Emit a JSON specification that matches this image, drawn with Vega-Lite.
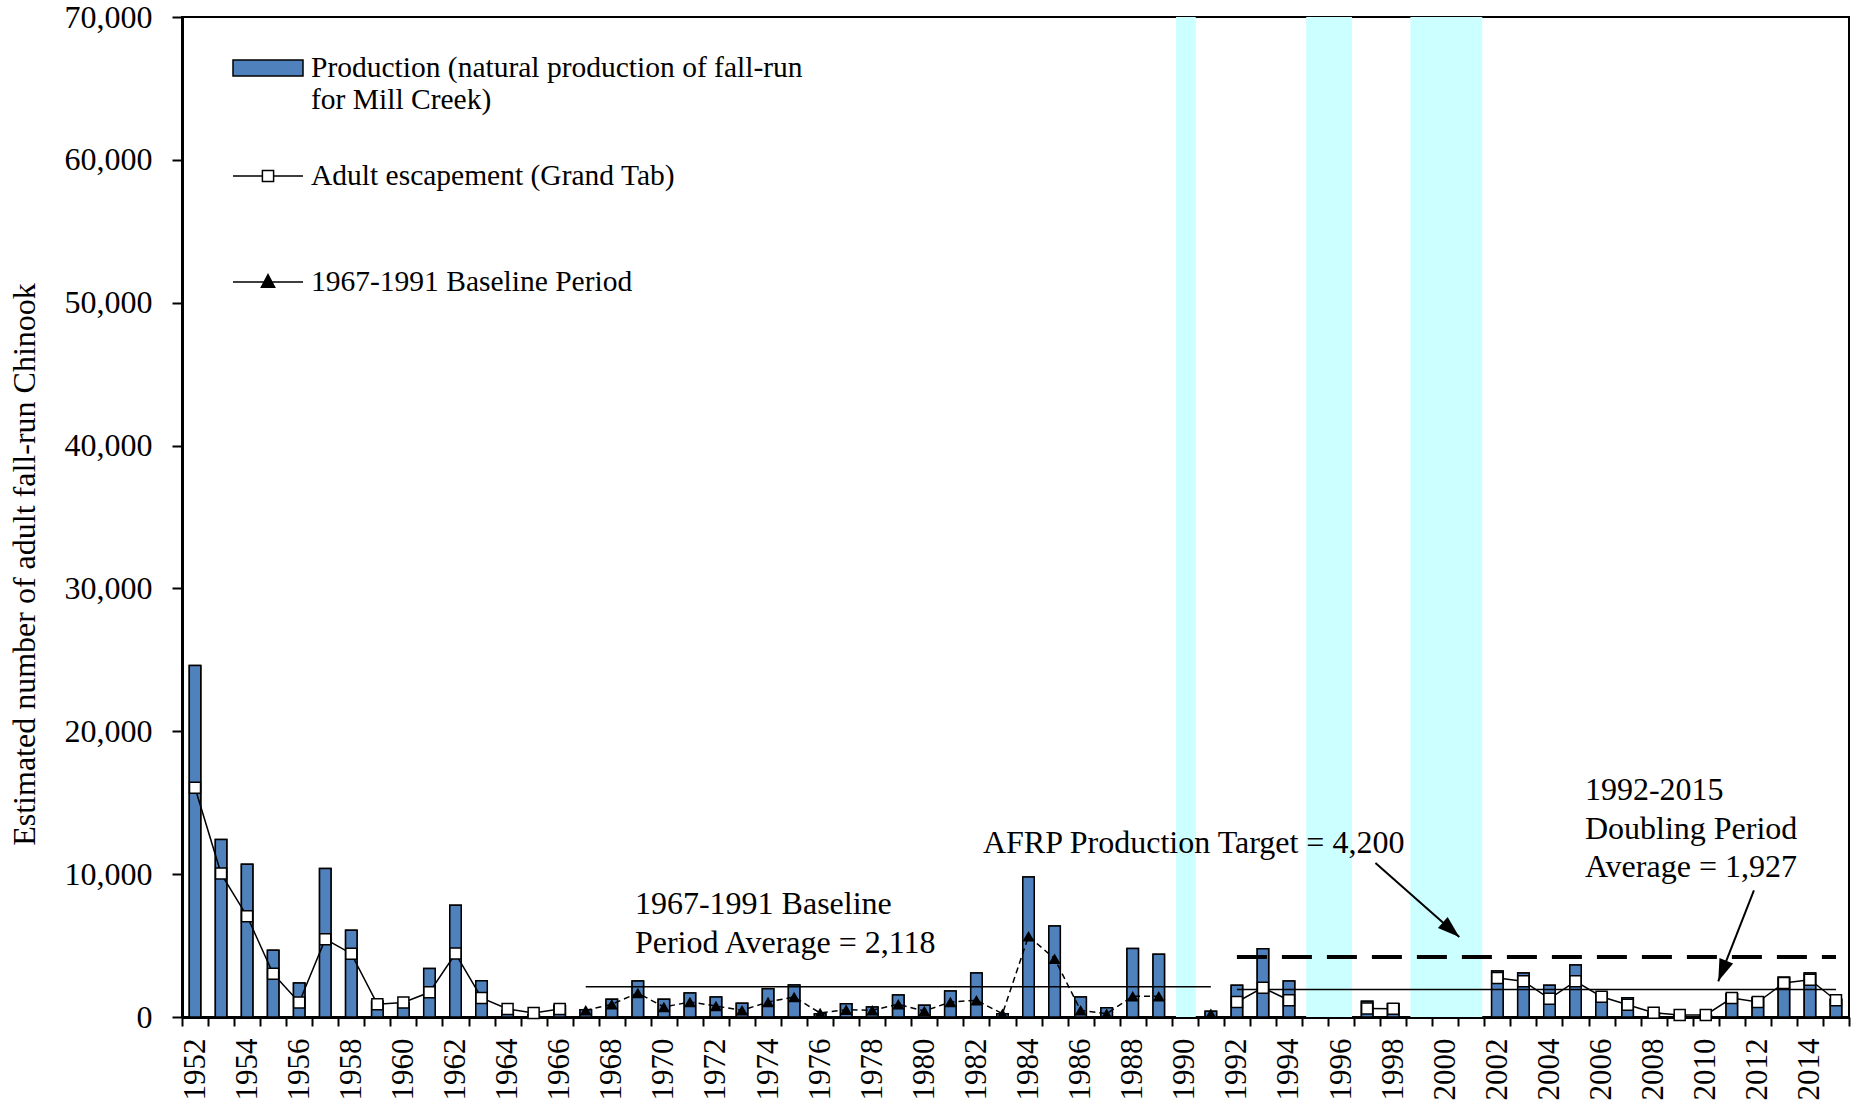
{
  "$schema": "https://vega.github.io/schema/vega-lite/v6.json",
  "width": 1667,
  "height": 1000,
  "autosize": {"type": "none"},
  "padding": {"left": 182, "top": 17, "right": 6, "bottom": 93},
  "background": "white",
  "config": {
    "font": "Liberation Serif",
    "view": {"stroke": "black", "strokeWidth": 2},
    "style": {
      "guide-label": {"font": "Liberation Serif", "fill": "black"},
      "guide-title": {"font": "Liberation Serif", "fill": "black"}
    },
    "axis": {"labelFont": "Liberation Serif", "titleFont": "Liberation Serif", "labelColor": "black", "titleColor": "black", "domainColor": "black", "tickColor": "black", "grid": false}
  },
  "datasets": {
    "main": [
      {"year": 1952, "prod": 24600, "esc": 16050, "base": null},
      {"year": 1953, "prod": 12420, "esc": 10040, "base": null},
      {"year": 1954, "prod": 10700, "esc": 7050, "base": null},
      {"year": 1955, "prod": 4680, "esc": 3030, "base": null},
      {"year": 1956, "prod": 2380, "esc": 1020, "base": null},
      {"year": 1957, "prod": 10400, "esc": 5450, "base": null},
      {"year": 1958, "prod": 6080, "esc": 4430, "base": null},
      {"year": 1959, "prod": 1100, "esc": 900, "base": null},
      {"year": 1960, "prod": 1000, "esc": 1020, "base": null},
      {"year": 1961, "prod": 3400, "esc": 1730, "base": null},
      {"year": 1962, "prod": 7820, "esc": 4440, "base": null},
      {"year": 1963, "prod": 2530, "esc": 1330, "base": null},
      {"year": 1964, "prod": 450, "esc": 560, "base": null},
      {"year": 1965, "prod": 150, "esc": 280, "base": null},
      {"year": 1966, "prod": 800, "esc": 560, "base": null},
      {"year": 1967, "prod": 500, "esc": null, "base": 470},
      {"year": 1968, "prod": 1240, "esc": null, "base": 890},
      {"year": 1969, "prod": 2520, "esc": null, "base": 1680},
      {"year": 1970, "prod": 1240, "esc": null, "base": 700},
      {"year": 1971, "prod": 1680, "esc": null, "base": 1050},
      {"year": 1972, "prod": 1400, "esc": null, "base": 770},
      {"year": 1973, "prod": 960, "esc": null, "base": 470},
      {"year": 1974, "prod": 1980, "esc": null, "base": 1050},
      {"year": 1975, "prod": 2240, "esc": null, "base": 1400},
      {"year": 1976, "prod": 230, "esc": null, "base": 280},
      {"year": 1977, "prod": 930, "esc": null, "base": 510},
      {"year": 1978, "prod": 700, "esc": null, "base": 470},
      {"year": 1979, "prod": 1540, "esc": null, "base": 890},
      {"year": 1980, "prod": 820, "esc": null, "base": 420},
      {"year": 1981, "prod": 1820, "esc": null, "base": 1050},
      {"year": 1982, "prod": 3080, "esc": null, "base": 1170},
      {"year": 1983, "prod": 230, "esc": null, "base": 230},
      {"year": 1984, "prod": 9800, "esc": null, "base": 5650},
      {"year": 1985, "prod": 6370, "esc": null, "base": 4080},
      {"year": 1986, "prod": 1400, "esc": null, "base": 470},
      {"year": 1987, "prod": 650, "esc": null, "base": 230},
      {"year": 1988, "prod": 4800, "esc": null, "base": 1450},
      {"year": 1989, "prod": 4400, "esc": null, "base": 1450},
      {"year": 1990, "prod": null, "esc": null, "base": null},
      {"year": 1991, "prod": 400, "esc": null, "base": 230},
      {"year": 1992, "prod": 2220, "esc": 1050, "base": null},
      {"year": 1993, "prod": 4780, "esc": 2050, "base": null},
      {"year": 1994, "prod": 2520, "esc": 1170, "base": null},
      {"year": 1995, "prod": null, "esc": null, "base": null},
      {"year": 1996, "prod": null, "esc": null, "base": null},
      {"year": 1997, "prod": 1100, "esc": 600, "base": null},
      {"year": 1998, "prod": 930, "esc": 580, "base": null},
      {"year": 1999, "prod": null, "esc": null, "base": null},
      {"year": 2000, "prod": null, "esc": null, "base": null},
      {"year": 2001, "prod": null, "esc": null, "base": null},
      {"year": 2002, "prod": 3220, "esc": 2730, "base": null},
      {"year": 2003, "prod": 3080, "esc": 2500, "base": null},
      {"year": 2004, "prod": 2220, "esc": 1280, "base": null},
      {"year": 2005, "prod": 3640, "esc": 2500, "base": null},
      {"year": 2006, "prod": 1700, "esc": 1420, "base": null},
      {"year": 2007, "prod": 1350, "esc": 860, "base": null},
      {"year": 2008, "prod": 300, "esc": 300, "base": null},
      {"year": 2009, "prod": 120, "esc": 140, "base": null},
      {"year": 2010, "prod": 120, "esc": 140, "base": null},
      {"year": 2011, "prod": 1630, "esc": 1330, "base": null},
      {"year": 2012, "prod": 1350, "esc": 1050, "base": null},
      {"year": 2013, "prod": 2780, "esc": 2380, "base": null},
      {"year": 2014, "prod": 3080, "esc": 2610, "base": null},
      {"year": 2015, "prod": 1240, "esc": 1170, "base": null}
    ],
    "gaps": [{"start": 1990, "end": 1990}, {"start": 1995, "end": 1996}, {"start": 1999, "end": 2001}],
    "baseAvg": [{"start": 1967, "end": 1991, "value": 2118}],
    "dblAvg": [{"start": 1992, "end": 2015, "value": 1927}],
    "target": [{"start": 1992, "end": 2015, "value": 4200}],
    "notes": [
      {"x": 1968.89, "y": 7890, "text": "1967-1991 Baseline|Period Average = 2,118"},
      {"x": 1982.25, "y": 12160, "text": "AFRP Production Target = 4,200"},
      {"x": 2005.36, "y": 15865, "text": "1992-2015|Doubling Period|Average = 1,927"}
    ],
    "arrows": [
      {"x": 1997.32, "y": 10780, "x2": 2000.54, "y2": 5600},
      {"x": 2011.85, "y": 8870, "x2": 2010.48, "y2": 2500}
    ],
    "legend": [
      {"series": "Production (natural production of fall-run|for Mill Creek)"},
      {"series": "Adult escapement (Grand Tab)"},
      {"series": "1967-1991 Baseline Period"}
    ]
  },
  "resolve": {"scale": {"x": "independent"}},
  "layer": [
    {
      "layer": [
        {
          "data": {"name": "main"},
          "mark": {"type": "bar", "fill": "#4F81BD", "stroke": "black", "strokeWidth": 1.5, "width": {"band": 0.44}},
          "encoding": {
            "x": {
              "field": "year", "type": "ordinal", "title": null,
              "scale": {"domain": [1952,1953,1954,1955,1956,1957,1958,1959,1960,1961,1962,1963,1964,1965,1966,1967,1968,1969,1970,1971,1972,1973,1974,1975,1976,1977,1978,1979,1980,1981,1982,1983,1984,1985,1986,1987,1988,1989,1990,1991,1992,1993,1994,1995,1996,1997,1998,1999,2000,2001,2002,2003,2004,2005,2006,2007,2008,2009,2010,2011,2012,2013,2014,2015], "paddingInner": 0, "paddingOuter": 0},
              "axis": {
                "labelAngle": -90, "labelFontSize": 31, "labelFont": "Liberation Serif", "labelColor": "black",
                "labelExpr": "datum.value % 2 === 0 ? datum.label : ''",
                "labelOverlap": false, "tickBand": "extent", "tickSize": 9, "tickWidth": 2, "tickColor": "black", "labelPadding": 12,
                "domainWidth": 3, "domainColor": "black"
              }
            },
            "y": {
              "field": "prod", "type": "quantitative",
              "scale": {"domain": [0, 70000], "nice": false},
              "title": "Estimated number of adult fall-run Chinook",
              "axis": {
                "values": [0, 10000, 20000, 30000, 40000, 50000, 60000, 70000], "format": ",",
                "labelExpr": "format(datum.value, ',')",
                "labelFont": "Liberation Serif", "labelColor": "black",
                "labelFontSize": 32, "tickSize": 10, "tickWidth": 2, "tickColor": "black", "labelPadding": 20,
                "domainWidth": 3, "domainColor": "black",
                "titleFont": "Liberation Serif", "titleColor": "black",
                "titleFontSize": 32, "titleFontWeight": "normal", "titlePadding": 23, "titleY": 547
              }
            }
          }
        },
        {
          "data": {"name": "gaps"},
          "mark": {"type": "rect", "color": "#CCFFFF"},
          "encoding": {
            "x": {"field": "start", "type": "ordinal", "bandPosition": 0.16},
            "x2": {"field": "end", "bandPosition": 0.92}
          }
        },
        {
          "data": {"name": "main"},
          "mark": {"type": "bar", "fill": "#4F81BD", "stroke": "black", "strokeWidth": 1.5, "width": {"band": 0.44}},
          "encoding": {
            "x": {"field": "year", "type": "ordinal"},
            "y": {"field": "prod", "type": "quantitative", "scale": {"domain": [0, 70000], "nice": false}}
          }
        },
        {
          "data": {"name": "baseAvg"},
          "mark": {"type": "rule", "color": "black", "strokeWidth": 1.5},
          "encoding": {
            "x": {"field": "start", "type": "ordinal"},
            "x2": {"field": "end"},
            "y": {"field": "value", "type": "quantitative", "scale": {"domain": [0, 70000], "nice": false}}
          }
        },
        {
          "data": {"name": "dblAvg"},
          "mark": {"type": "rule", "color": "black", "strokeWidth": 1.5},
          "encoding": {
            "x": {"field": "start", "type": "ordinal"},
            "x2": {"field": "end"},
            "y": {"field": "value", "type": "quantitative", "scale": {"domain": [0, 70000], "nice": false}}
          }
        },
        {
          "data": {"name": "target"},
          "mark": {"type": "rule", "color": "black", "strokeWidth": 4, "strokeDash": [30, 15]},
          "encoding": {
            "x": {"field": "start", "type": "ordinal"},
            "x2": {"field": "end"},
            "y": {"field": "value", "type": "quantitative", "scale": {"domain": [0, 70000], "nice": false}}
          }
        },
        {
          "data": {"name": "main"},
          "mark": {"type": "line", "color": "black", "strokeWidth": 1.5, "strokeDash": [6, 4], "invalid": "break-paths-show-domains",
            "point": {"shape": "triangle-up", "filled": true, "color": "black", "size": 150, "opacity": 1}},
          "encoding": {
            "x": {"field": "year", "type": "ordinal"},
            "y": {"field": "base", "type": "quantitative", "scale": {"domain": [0, 70000], "nice": false}}
          }
        },
        {
          "data": {"name": "main"},
          "mark": {"type": "line", "color": "black", "strokeWidth": 1.5, "invalid": "break-paths-show-domains",
            "point": {"shape": "square", "filled": true, "fill": "white", "stroke": "black", "strokeWidth": 1.5, "size": 121, "opacity": 1}},
          "encoding": {
            "x": {"field": "year", "type": "ordinal"},
            "y": {"field": "esc", "type": "quantitative", "scale": {"domain": [0, 70000], "nice": false}}
          }
        },
        {
          "data": {"name": "legend"},
          "transform": [{"filter": "false"}],
          "mark": {"type": "point", "filled": true, "opacity": 1, "strokeWidth": 1.5},
          "encoding": {
            "shape": {
              "field": "series", "type": "nominal",
              "scale": {
                "domain": ["Production (natural production of fall-run|for Mill Creek)", "Adult escapement (Grand Tab)", "1967-1991 Baseline Period"],
                "range": ["M0,-1M0,1.886M-1,-0.23H1V0.23H-1Z", "M0,-1M0,1.857M-1,0H-0.16M0.16,0H1M-0.16,-0.16H0.16V0.16H-0.16Z", "M0,-1M0,1M-1,0H1M-0.19,0.15L0,-0.21L0.19,0.15Z"]
              },
              "legend": {
                "title": null, "orient": "none", "legendX": 50, "legendY": 15, "direction": "vertical",
                "symbolSize": 4900, "symbolStrokeWidth": 1.5, "symbolOpacity": 1,
                "labelFont": "Liberation Serif", "labelFontSize": 29.5, "labelColor": "black",
                "labelOffset": 7, "labelLimit": 900, "rowPadding": 0, "padding": 0,
                "labelExpr": "split(datum.label, '|')",
                "encode": {
                  "labels": {"update": {"lineHeight": {"value": 35}}}
                }
              }
            },
            "fill": {
              "field": "series", "type": "nominal",
              "scale": {
                "domain": ["Production (natural production of fall-run|for Mill Creek)", "Adult escapement (Grand Tab)", "1967-1991 Baseline Period"],
                "range": ["#4F81BD", "white", "black"]
              }
            },
            "stroke": {
              "field": "series", "type": "nominal",
              "scale": {
                "domain": ["Production (natural production of fall-run|for Mill Creek)", "Adult escapement (Grand Tab)", "1967-1991 Baseline Period"],
                "range": ["black", "black", "black"]
              }
            }
          }
        }
      ]
    },
    {
      "layer": [
        {
          "data": {"name": "notes"},
          "mark": {"type": "text", "align": "left", "baseline": "middle", "fontSize": 32, "font": "Liberation Serif", "color": "black", "lineBreak": "|", "lineHeight": 38.5},
          "encoding": {
            "x": {"field": "x", "type": "quantitative", "scale": {"domain": [1951.5, 2015.5], "nice": false, "zero": false}, "axis": null},
            "y": {"field": "y", "type": "quantitative", "scale": {"domain": [0, 70000], "nice": false}},
            "text": {"field": "text"}
          }
        },
        {
          "data": {"name": "arrows"},
          "mark": {"type": "rule", "color": "black", "strokeWidth": 2},
          "encoding": {
            "x": {"field": "x", "type": "quantitative", "scale": {"domain": [1951.5, 2015.5], "nice": false, "zero": false}, "axis": null},
            "x2": {"field": "x2"},
            "y": {"field": "y", "type": "quantitative", "scale": {"domain": [0, 70000], "nice": false}},
            "y2": {"field": "y2"}
          }
        },
        {
          "data": {"values": [{"x": 2000.54, "y": 5600}]},
          "mark": {"type": "point", "shape": "M0,0L0.6,1.8L-0.6,1.8Z", "filled": true, "color": "black", "size": 600, "angle": 131.4, "opacity": 1},
          "encoding": {
            "x": {"field": "x", "type": "quantitative", "scale": {"domain": [1951.5, 2015.5], "nice": false, "zero": false}, "axis": null},
            "y": {"field": "y", "type": "quantitative", "scale": {"domain": [0, 70000], "nice": false}}
          }
        },
        {
          "data": {"values": [{"x": 2010.48, "y": 2500}]},
          "mark": {"type": "point", "shape": "M0,0L0.6,1.8L-0.6,1.8Z", "filled": true, "color": "black", "size": 600, "angle": 201.4, "opacity": 1},
          "encoding": {
            "x": {"field": "x", "type": "quantitative", "scale": {"domain": [1951.5, 2015.5], "nice": false, "zero": false}, "axis": null},
            "y": {"field": "y", "type": "quantitative", "scale": {"domain": [0, 70000], "nice": false}}
          }
        }
      ]
    }
  ]
}
